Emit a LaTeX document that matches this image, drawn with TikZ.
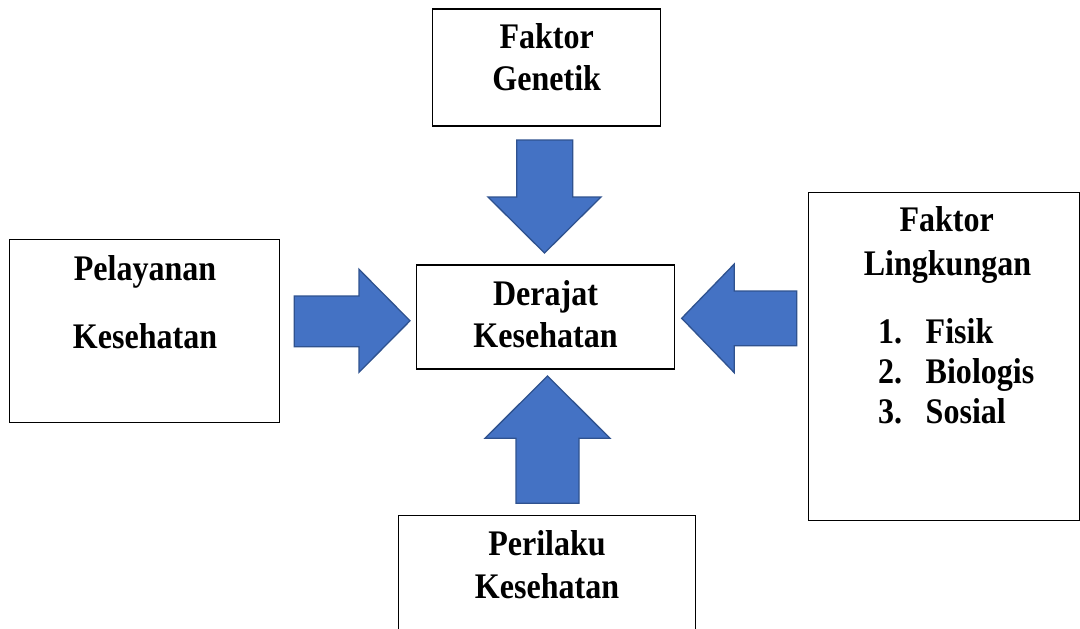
\documentclass[tikz,border=0pt]{standalone}
\usepackage{fontspec}
\setmainfont{Liberation Serif}[FakeStretch=0.89]
\begin{document}
\begin{tikzpicture}[x=1pt,y=-1pt,
  box/.style={draw=black,line width=1.1pt,fill=white,inner sep=0pt,rectangle},
  lbl/.style={anchor=base,inner sep=0pt,font=\fontsize{36}{42}\selectfont\bfseries},
  blk/.style={fill=arrowfill,draw=arrowline,line width=1.3pt,line join=miter}]
\definecolor{arrowfill}{HTML}{4472C4}
\definecolor{arrowline}{HTML}{2F528F}
\useasboundingbox (0,0) rectangle (1080,629);
\clip (0,0) rectangle (1080,629);
\fill[white] (0,0) rectangle (1080,629);
% boxes
\node[box,minimum width=228pt,minimum height=117pt] (gen) at (546.7,67.5) {};
\node[box,minimum width=270pt,minimum height=183pt] (pel) at (144.3,330.7) {};
\node[box,minimum width=258pt,minimum height=104pt] (der) at (545.8,317) {};
\node[box,minimum width=271pt,minimum height=328.4pt] (lin) at (944,356.5) {};
\node[box,minimum width=296.7pt,minimum height=140pt] (per) at (546.7,585.7) {};
% texts
\node[lbl] (t1) at (546.7,48) {Faktor};
\node[lbl] (t2) at (546.7,90.7) {Genetik};
\node[lbl] (t3) at (145,280) {Pelayanan};
\node[lbl] (t4) at (145,348.3) {Kesehatan};
\node[lbl] (t5) at (545.5,305) {Derajat};
\node[lbl] (t6) at (545.5,347) {Kesehatan};
\node[lbl] (t7) at (946.7,231.7) {Faktor};
\node[lbl] (t8) at (947.5,275) {Lingkungan};
\node[lbl,anchor=base west] (n1) at (878,343) {1.};
\node[lbl,anchor=base west] (n2) at (878,383.5) {2.};
\node[lbl,anchor=base west] (n3) at (878,423) {3.};
\node[lbl,anchor=base west] (i1) at (925.5,343) {Fisik};
\node[lbl,anchor=base west] (i2) at (925.5,383.5) {Biologis};
\node[lbl,anchor=base west] (i3) at (925.5,423) {Sosial};
\node[lbl] (t9) at (547,555) {Perilaku};
\node[lbl] (t10) at (547,598.3) {Kesehatan};
% block arrows
\draw[blk] (516.7,140) -- (572.7,140) -- (572.7,197) -- (601,197) -- (544.5,253)
  -- (488,197) -- (516.7,197) -- cycle;
\draw[blk] (294.3,296) -- (359,296) -- (359,269.3) -- (410,320.8) -- (359,372.3)
  -- (359,346.7) -- (294.3,346.7) -- cycle;
\draw[blk] (796.7,291) -- (734.3,291) -- (734.3,264) -- (681.7,318.3) -- (734.3,372.7)
  -- (734.3,345.7) -- (796.7,345.7) -- cycle;
\draw[blk] (516,503.3) -- (516,438.3) -- (485,438.3) -- (547.5,376) -- (610,438.3)
  -- (579,438.3) -- (579,503.3) -- cycle;
\end{tikzpicture}
\end{document}
